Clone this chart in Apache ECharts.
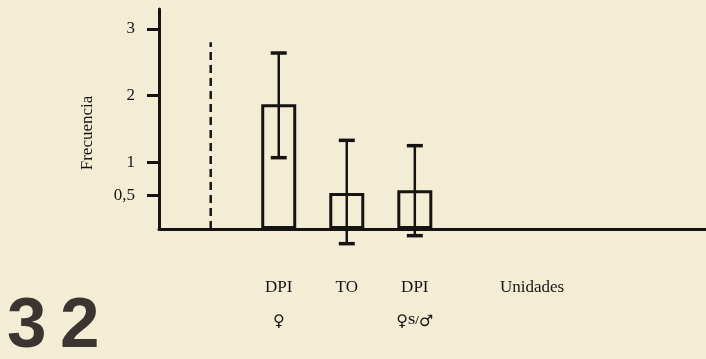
<!DOCTYPE html>
<html>
<head>
<meta charset="utf-8">
<script src="https://cdn.jsdelivr.net/npm/echarts@6/dist/echarts.min.js"></script>
<style>
html,body{margin:0;padding:0;background:#f4edd6;}
#c{width:706px;height:359px;}
</style>
</head>
<body>
<div id="c"></div>
<script>
// Data
const catLabels = ['DPI', 'TO', 'DPI'];
const catPositions = [0, 1, 2];
const barValues = [1.87, 0.54, 0.58];
const errLow = [1.07, -0.22, -0.10];
const errHigh = [2.64, 1.33, 1.25];
const yTicks = [0.5, 1, 2, 3];
const dashX = -1;
const dashTop = 2.8;

const ink = '#161412';
const serif = 'Liberation Serif';

const chart = echarts.init(document.getElementById('c'), null, {renderer: 'canvas'});

const sexRich = ['{b|♀}', '', '{b|♀}{s|S/}{b|♂}'];

chart.setOption({
  backgroundColor: '#f4edd6',
  animation: false,
  grid: {left: 159, right: 0, top: 9, bottom: 130, containLabel: false},
  xAxis: {
    type: 'value', min: -1.76, max: 6.28,
    axisLine: {show: true, onZero: false, lineStyle: {color: ink, width: 3}},
    axisTick: {show: false},
    splitLine: {show: false},
    axisLabel: {
      customValues: catPositions,
      margin: 42,
      formatter: function (v) {
        const i = catPositions.indexOf(Math.round(v));
        if (i < 0) return '';
        return '{a|' + catLabels[i] + '}\n' + (sexRich[i] || '{b| }');
      },
      rich: {
        a: {fontFamily: serif, fontSize: 17, color: ink, lineHeight: 34},
        b: {fontFamily: 'DejaVu Sans', fontSize: 16, fontWeight: 'bold', color: ink, lineHeight: 34},
        s: {fontFamily: serif, fontSize: 13, fontWeight: 'bold', color: ink, lineHeight: 34, verticalAlign: 'bottom', padding: [0, 0, 12, 0]}
      }
    }
  },
  yAxis: {
    type: 'value', min: 0, max: 3.3,
    axisLine: {show: true, onZero: false, lineStyle: {color: ink, width: 3}},
    axisTick: {show: true, customValues: yTicks, length: 12, lineStyle: {color: ink, width: 3}},
    splitLine: {show: false},
    axisLabel: {
      customValues: yTicks,
      margin: 24,
      fontFamily: serif, fontSize: 17, color: ink,
      formatter: function (v) { return String(v).replace('.', ','); }
    }
  },
  graphic: [
    {type: 'text', x: 88, y: 133, rotation: Math.PI / 2,
     style: {text: 'Frecuencia', font: '17px "Liberation Serif"', fill: ink, align: 'center', verticalAlign: 'middle'}},
    {type: 'text', x: 532, y: 288,
     style: {text: 'Unidades', font: '17px "Liberation Serif"', fill: ink, align: 'center', verticalAlign: 'middle'}},
    {type: 'text', x: 7, y: 327,
     style: {text: '3', font: 'bold 71px "Liberation Sans"', fill: '#3a3530', align: 'left', verticalAlign: 'middle'}},
    {type: 'text', x: 60, y: 327,
     style: {text: '2', font: 'bold 71px "Liberation Sans"', fill: '#3a3530', align: 'left', verticalAlign: 'middle'}}
  ],
  series: [
    {
      type: 'bar',
      data: catPositions.map((x, i) => [x, barValues[i]]),
      barWidth: 35,
      itemStyle: {color: 'rgba(0,0,0,0)', borderColor: ink, borderWidth: 3}
    },
    {
      type: 'custom',
      clip: false,
      data: catPositions.map((x, i) => [x, errLow[i], errHigh[i]]),
      renderItem: function (params, api) {
        const x = api.value(0);
        const lo = api.coord([x, api.value(1)]);
        const hi = api.coord([x, api.value(2)]);
        const hw = 8;
        const st = {stroke: ink, lineWidth: 2.5};
        return {
          type: 'group',
          children: [
            {type: 'line', shape: {x1: lo[0], y1: lo[1], x2: hi[0], y2: hi[1]}, style: st},
            {type: 'line', shape: {x1: hi[0] - hw, y1: hi[1], x2: hi[0] + hw, y2: hi[1]}, style: {stroke: ink, lineWidth: 3.5}},
            {type: 'line', shape: {x1: lo[0] - hw, y1: lo[1], x2: lo[0] + hw, y2: lo[1]}, style: {stroke: ink, lineWidth: 3.5}}
          ]
        };
      }
    },
    {
      type: 'line',
      data: [[dashX, 0], [dashX, dashTop]],
      symbol: 'none',
      lineStyle: {color: ink, width: 2.5, type: [8, 5]}
    }
  ]
});
</script>
</body>
</html>
